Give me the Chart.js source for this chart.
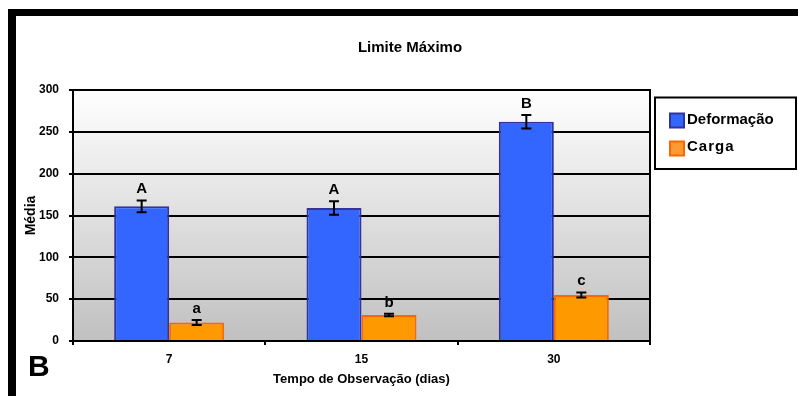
<!DOCTYPE html>
<html>
<head>
<meta charset="utf-8">
<script src="https://cdn.jsdelivr.net/npm/chart.js@4/dist/chart.umd.min.js"></script>
<style>
  html, body { margin: 0; padding: 0; background: #fff; overflow: hidden; }
  canvas { display: block; }
</style>
</head>
<body>
<canvas id="grafico" width="798" height="396"></canvas>
<script>
// Dados: média e erro-padrão por tempo de observação
const categories = ['7', '15', '30'];
const deformacao = [161, 159, 262];
const deformacaoErro = [7, 8, 8];
const carga = [22, 31, 55];
const cargaErro = [3, 1.5, 3];
const letrasDeformacao = ['A', 'A', 'B'];
const letrasCarga = ['a', 'b', 'c'];
const yTicks = [0, 50, 100, 150, 200, 250, 300];

const FONT = "'Liberation Sans', Arial, sans-serif";

const erros = [deformacaoErro, cargaErro];
const letras = [letrasDeformacao, letrasCarga];

// Moldura, fundo em degradê da área do gráfico e borda direita
const fundoPlugin = {
  id: 'fundo',
  beforeDraw(chart) {
    const { ctx, chartArea: a } = chart;
    ctx.save();
    ctx.fillStyle = '#ffffff';
    ctx.fillRect(0, 0, chart.width, chart.height);
    ctx.fillStyle = '#000000';
    ctx.fillRect(8, 9, chart.width - 8, 7);
    ctx.fillRect(8, 9, 8, chart.height - 9);
    const g = ctx.createLinearGradient(0, a.top, 0, a.bottom);
    g.addColorStop(0, '#ffffff');
    g.addColorStop(1, '#c0c0c0');
    ctx.fillStyle = g;
    ctx.fillRect(a.left, a.top, a.right - a.left, a.bottom - a.top);
    ctx.restore();
  },
  afterDraw(chart) {
    const { ctx, chartArea: a } = chart;
    ctx.save();
    ctx.strokeStyle = '#000';
    ctx.lineWidth = 2;
    ctx.beginPath();
    ctx.moveTo(a.right, a.top - 1);
    ctx.lineTo(a.right, a.bottom);
    ctx.stroke();
    ctx.restore();
  }
};

// Barras de erro e letras de significância
const erroPlugin = {
  id: 'erros',
  afterDatasetsDraw(chart) {
    const { ctx } = chart;
    const y = chart.scales.y;
    ctx.save();
    chart.data.datasets.forEach((ds, di) => {
      const meta = chart.getDatasetMeta(di);
      meta.data.forEach((bar, i) => {
        const v = ds.data[i];
        const e = erros[di][i];
        const yTop = y.getPixelForValue(v + e);
        const yBot = y.getPixelForValue(v - e);
        const x = bar.x;
        ctx.strokeStyle = '#000';
        ctx.lineWidth = 2;
        ctx.beginPath();
        ctx.moveTo(x, yTop); ctx.lineTo(x, yBot);
        ctx.moveTo(x - 5, yTop); ctx.lineTo(x + 5, yTop);
        ctx.moveTo(x - 5, yBot); ctx.lineTo(x + 5, yBot);
        ctx.stroke();
        ctx.fillStyle = '#000';
        ctx.font = 'bold 15px ' + FONT;
        ctx.textAlign = 'center';
        ctx.textBaseline = 'alphabetic';
        ctx.fillText(letras[di][i], x, yTop - 7);
      });
    });
    ctx.restore();
  }
};

// Título, legenda e letra do painel
const textosPlugin = {
  id: 'textos',
  afterDraw(chart) {
    const { ctx } = chart;
    ctx.save();
    ctx.fillStyle = '#000';
    ctx.textBaseline = 'alphabetic';
    ctx.font = 'bold 15px ' + FONT;
    ctx.textAlign = 'center';
    ctx.fillText('Limite Máximo', 410, 52);

    ctx.textAlign = 'left';
    ctx.font = 'bold 30px ' + FONT;
    ctx.fillText('B', 28, 376);

    // legenda
    ctx.strokeStyle = '#000';
    ctx.lineWidth = 2;
    ctx.strokeRect(655, 97.5, 141, 71.5);
    const itens = [
      { texto: chart.data.datasets[0].label, fundo: '#3366ff', borda: '#333399', y: 113.5, base: 123.5, esp: '0px' },
      { texto: chart.data.datasets[1].label, fundo: '#ff9933', borda: '#ff6600', y: 141.5, base: 151, esp: '1px' }
    ];
    itens.forEach(it => {
      ctx.fillStyle = it.fundo;
      ctx.fillRect(670, it.y, 14, 14);
      ctx.strokeStyle = it.borda;
      ctx.lineWidth = 2;
      ctx.strokeRect(670, it.y, 14, 14);
      ctx.fillStyle = '#000';
      ctx.font = 'bold 15px ' + FONT;
      ctx.letterSpacing = it.esp;
      ctx.fillText(it.texto, 687, it.base);
    });
    ctx.letterSpacing = '0px';
    ctx.restore();
  }
};

new Chart(document.getElementById('grafico'), {
  type: 'bar',
  data: {
    labels: categories,
    datasets: [
      {
        label: 'Deformação',
        data: deformacao,
        backgroundColor: '#3366ff',
        borderColor: '#333399',
        borderWidth: 2,
        categoryPercentage: 0.572,
        barPercentage: 1.0
      },
      {
        label: 'Carga',
        data: carga,
        backgroundColor: '#ff9900',
        borderColor: '#ff6600',
        borderWidth: 2,
        categoryPercentage: 0.572,
        barPercentage: 1.0
      }
    ]
  },
  options: {
    responsive: false,
    animation: false,
    devicePixelRatio: 1,
    layout: { padding: { top: 90, right: 148, left: 0, bottom: 0 } },
    plugins: {
      legend: { display: false },
      title: { display: false },
      tooltip: { enabled: false }
    },
    scales: {
      x: {
        grid: {
          display: true,
          drawOnChartArea: false,
          drawTicks: true,
          tickLength: 4,
          color: '#000',
          lineWidth: 2,
          offset: true
        },
        border: { display: true, color: '#000', width: 2 },
        ticks: {
          color: '#000',
          padding: 7,
          font: { family: FONT, size: 12, weight: 'bold' }
        },
        title: {
          display: true,
          text: 'Tempo de Observação (dias)',
          color: '#000',
          font: { family: FONT, size: 13, weight: 'bold' },
          padding: { top: 0, bottom: 9 }
        },
        afterFit(scale) { scale.height = 55; }
      },
      y: {
        min: 0,
        max: 300,
        afterBuildTicks(scale) { scale.ticks = yTicks.map(v => ({ value: v })); },
        grid: {
          color: '#000',
          lineWidth: 2,
          drawTicks: true,
          tickLength: 4
        },
        border: { display: true, color: '#000', width: 2 },
        ticks: {
          color: '#000',
          padding: 10,
          font: { family: FONT, size: 12, weight: 'bold' }
        },
        title: {
          display: true,
          text: 'Média',
          color: '#000',
          font: { family: FONT, size: 14, weight: 'bold' },
          padding: { top: 23, bottom: 0 }
        },
        afterFit(scale) { scale.width = 73; }
      }
    }
  },
  plugins: [fundoPlugin, erroPlugin, textosPlugin]
});
</script>
</body>
</html>
